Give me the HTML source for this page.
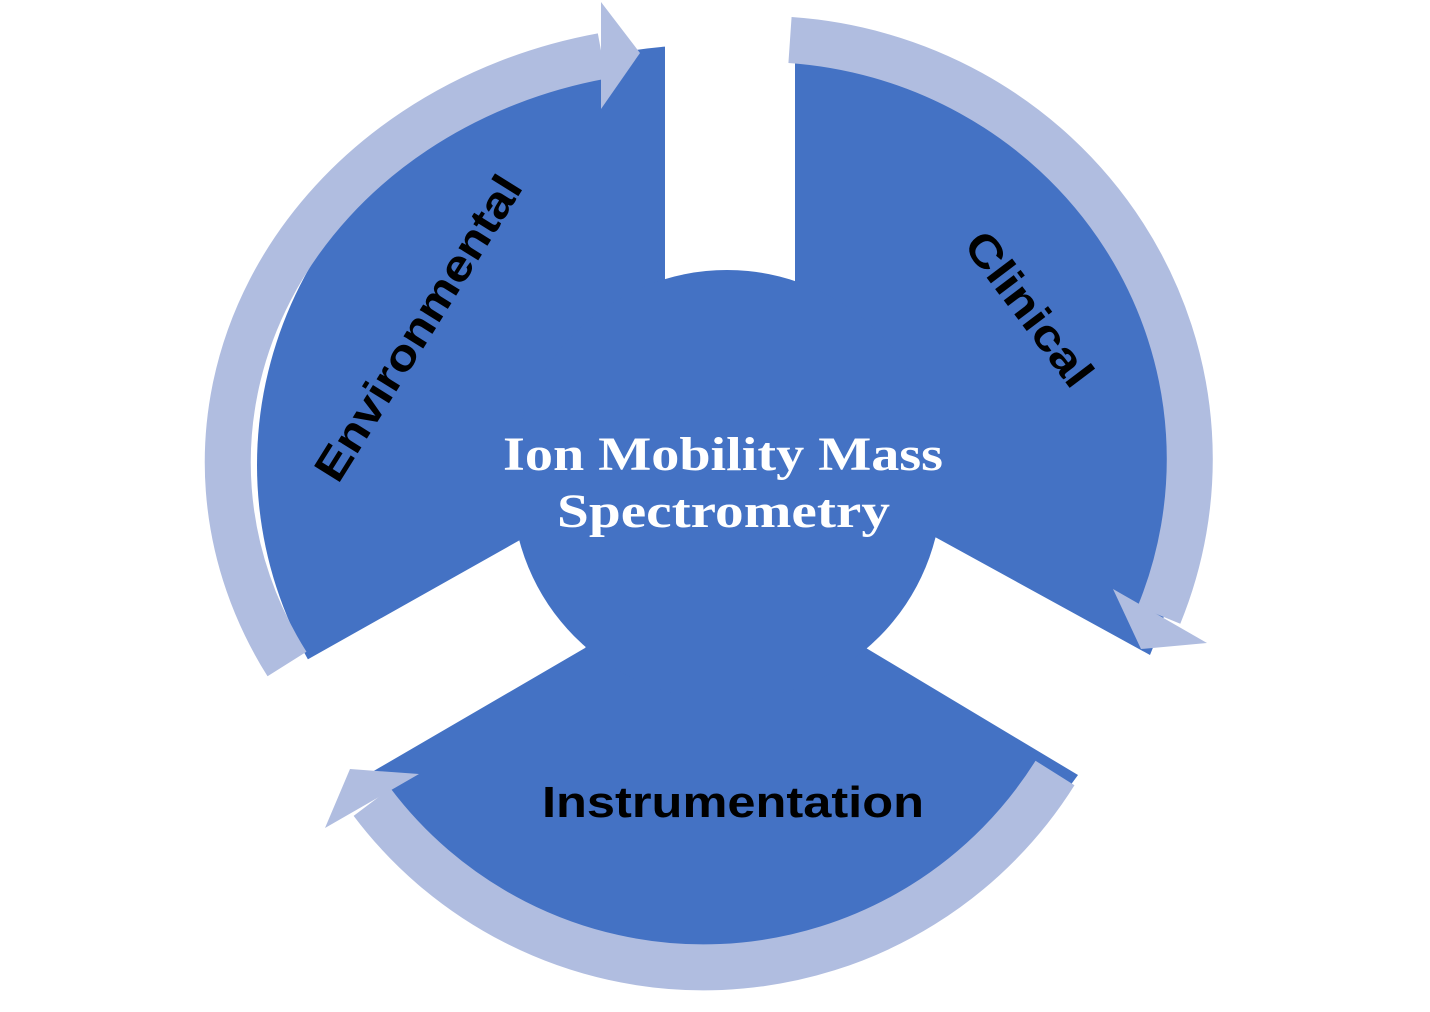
<!DOCTYPE html>
<html><head><meta charset="utf-8"><style>
html,body{margin:0;padding:0;background:#fff;}
svg{display:block;}
</style></head><body>
<svg width="1430" height="1012" viewBox="0 0 1430 1012" xmlns="http://www.w3.org/2000/svg">
<defs>
<clipPath id="cl"><polygon points="665,0 665,485 727,485 520,540 200,720 0,720 0,0"/></clipPath>
</defs>
<g fill="#4472c4">
<path d="M795,62 A430,430 0 0 1 1150,655 L935,537 L727,485 L795,485 Z"/>
<ellipse cx="705" cy="465" rx="448" ry="420" clip-path="url(#cl)"/>
<path d="M372,772 A432,432 0 0 0 1078,775 L866,648 L727,485 L585,648 Z"/>
<circle cx="727" cy="485" r="215"/>
</g>
<g fill="none" stroke="#b0bde0" stroke-width="46">
<path d="M287,664 A470,415 0 0 1 602,56"/>
<path d="M790,40 A430,420 0 0 1 1159,615"/>
<path d="M1055,773 A415,415 0 0 1 372,802"/>
</g>
<g fill="#b0bde0">
<polygon points="601,2 640,53 601,109"/>
<polygon points="1113,589 1207,643 1141,649"/>
<polygon points="350,769 419,774 325,828"/>
</g>
<g font-family="Liberation Serif, serif" font-weight="bold" font-size="48" fill="#fff">
<text x="503" y="470" textLength="440" lengthAdjust="spacingAndGlyphs">Ion Mobility Mass</text>
<text x="557" y="527" textLength="333" lengthAdjust="spacingAndGlyphs">Spectrometry</text>
</g>
<g font-family="Liberation Sans, sans-serif" font-weight="bold" font-size="44" fill="#000" text-anchor="middle">
<text x="733" y="817" textLength="382" lengthAdjust="spacingAndGlyphs">Instrumentation</text>
<text transform="translate(431,336) rotate(-58)" textLength="351" lengthAdjust="spacingAndGlyphs">Environmental</text>
<text transform="translate(1017,318) rotate(53)" textLength="182" lengthAdjust="spacingAndGlyphs">Clinical</text>
</g>
</svg>
</body></html>
